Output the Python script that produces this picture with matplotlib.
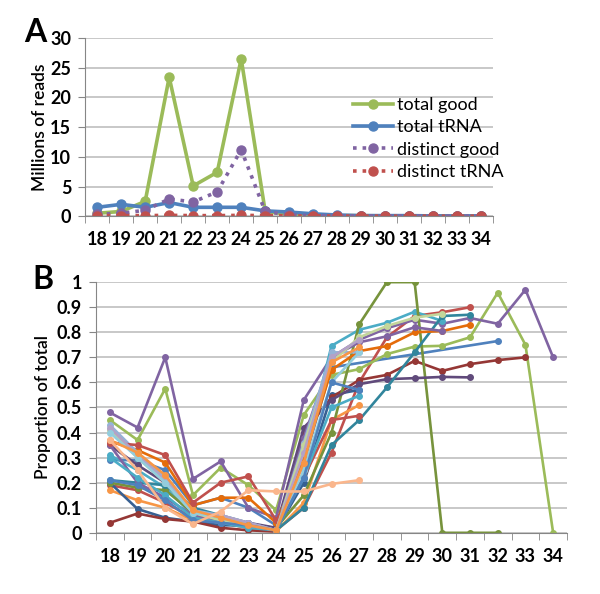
import numpy as np
import matplotlib.pyplot as plt
from matplotlib.ticker import FixedLocator

plt.rcParams['font.family'] = ['Lato', 'DejaVu Sans']

lengths = list(range(18, 35))

# panel A, millions of reads
total_good = [0.5, 0.8, 2.5, 23.4, 5.1, 7.4, 26.5, 0.8, 0.3, 0.2, 0.1, 0.1, 0.05, 0.05, 0.05, 0.02, 0.02]
total_trna = [1.5, 2.0, 1.5, 2.3, 1.5, 1.5, 1.5, 0.9, 0.7, 0.4, 0.2, 0.1, 0.1, 0.1, 0.05, 0.05, 0.05]
distinct_good = [0.3, 0.5, 1.0, 2.9, 2.4, 4.1, 11.2, 0.8, 0.2, 0.1, 0.05, 0.05, 0.03, 0.03, 0.02, 0.02, 0.02]
distinct_trna = [0.1, 0.1, 0.1, 0.15, 0.1, 0.1, 0.15, 0.1, 0.05, 0.05, 0.03, 0.02, 0.02, 0.02, 0.01, 0.01, 0.01]

# panel B, proportion of total (None = no value for that length)
N = None
props = [
    # colour, values 18..34
    ('#4F81BD', [0.29, 0.29, 0.25, 0.11, 0.14, 0.10, 0.03, 0.28, 0.66, N, N, N, N, N, 0.765]),
    ('#C0504D', [0.19, 0.17, 0.12, 0.06, 0.04, 0.02, 0.01, 0.10, 0.32, 0.60, 0.78, 0.865, 0.88, 0.90]),
    ('#9BBB59', [0.45, 0.37, 0.575, 0.15, 0.26, 0.19, 0.09, 0.47, 0.63, 0.653, 0.713, 0.743, 0.746, 0.78, 0.958, 0.75, 0.0]),
    ('#8064A2', [0.48, 0.42, 0.70, 0.215, 0.285, 0.10, 0.06, 0.53, 0.70, 0.77, 0.816, 0.85, 0.834, 0.857, 0.834, 0.97, 0.70]),
    ('#4BACC6', [0.31, 0.25, 0.18, 0.07, 0.05, 0.03, 0.01, 0.30, 0.746, 0.81, 0.838, 0.882, 0.845]),
    ('#F79646', [0.17, 0.13, 0.10, 0.05, 0.04, 0.02, 0.005, 0.12, 0.45, 0.51]),
    ('#376092', [0.20, 0.095, 0.06, 0.045, 0.03, 0.03, 0.01, 0.20, 0.55, 0.57]),
    ('#953735', [0.04, 0.077, 0.055, 0.045, 0.02, 0.01, 0.005, 0.40, 0.54, 0.61, 0.63, 0.686, 0.646, 0.673, 0.689, 0.70]),
    ('#77933C', [0.20, 0.18, 0.17, 0.08, 0.06, 0.03, 0.02, 0.15, 0.40, 0.832, 1.0, 1.0, 0.0, 0.0, 0.0]),
    ('#604A7B', [0.35, 0.27, 0.20, 0.10, 0.06, 0.04, 0.02, 0.42, 0.53, 0.593, 0.613, 0.617, 0.622, 0.62]),
    ('#31859C', [0.21, 0.20, 0.19, 0.10, 0.07, 0.04, 0.01, 0.10, 0.35, 0.45, 0.58, 0.72, 0.865, 0.87]),
    ('#E46C0A', [0.365, 0.33, 0.28, 0.11, 0.14, 0.14, 0.04, 0.30, 0.65, 0.725, 0.745, 0.80, 0.805, 0.83]),
    ('#8064A2', [0.35, 0.20, 0.14, 0.07, 0.05, 0.03, 0.01, 0.38, 0.70, 0.76, 0.784, 0.82, 0.805]),
    ('#95B3D7', [0.43, 0.32, 0.22, 0.09, 0.07, 0.04, 0.01, 0.36, 0.72, 0.72]),
    ('#C0504D', [0.36, 0.35, 0.31, 0.12, 0.20, 0.225, 0.05, 0.22, 0.45, 0.467]),
    ('#C3D69B', [0.41, 0.30, 0.20, 0.08, 0.05, 0.03, 0.01, 0.35, 0.68, 0.78, 0.825, 0.858, 0.874]),
    ('#4BACC6', [0.30, 0.22, 0.15, 0.06, 0.04, 0.02, 0.01, 0.22, 0.50, 0.547]),
    ('#B3A2C7', [0.42, 0.31, 0.21, 0.08, 0.07, 0.04, 0.01, 0.32, 0.70, 0.77]),
    ('#93CDDD', [0.40, 0.30, 0.20, 0.08, 0.06, 0.03, 0.01, 0.25, 0.60, 0.72]),
    ('#4F81BD', [0.21, 0.19, 0.13, 0.05, 0.04, 0.03, 0.01, 0.22, 0.60, 0.57]),
    ('#F79646', [0.37, 0.32, 0.23, 0.09, 0.06, 0.03, 0.01, 0.28, 0.68, 0.74]),
    ('#FAB68C', [0.37, 0.25, 0.10, 0.035, 0.085, 0.17, 0.165, 0.165, 0.195, 0.21]),
]

fig = plt.figure(figsize=(6.0, 5.94), dpi=100)

grid_c = '#BFBFBF'
tick_font = dict(fontsize=13, fontweight='bold')


def style_axes(ax):
    ax.set_xlim(17.5, 34.5)
    ax.set_xticks(lengths)
    ax.set_xticklabels([str(v) for v in lengths], **tick_font)
    ax.xaxis.set_minor_locator(FixedLocator(np.arange(17.5, 35, 1)))
    ax.tick_params(axis='x', which='major', length=0, pad=11)
    ax.tick_params(axis='x', which='minor', length=5, color='#868686')
    ax.tick_params(axis='y', length=5, color='#868686', pad=5)
    for s in ['top', 'right']:
        ax.spines[s].set_visible(False)
    for s in ['left', 'bottom']:
        ax.spines[s].set_color('#868686')
    ax.yaxis.grid(True, color=grid_c, linewidth=1.2)
    ax.set_axisbelow(True)
    for lab in ax.get_yticklabels():
        lab.set_fontweight('bold')
        lab.set_fontsize(13)


# ---- panel A
axA = fig.add_axes([0.142, 0.636, 0.68, 0.30])
axA.plot(lengths, total_good, color='#9BBB59', lw=2.6, marker='o', ms=6.5, label='total good')
axA.plot(lengths, total_trna, color='#4F81BD', lw=2.6, marker='o', ms=6.5, label='total tRNA')
axA.plot(lengths, distinct_good, color='#8064A2', lw=2.6, ls=':', marker='o', ms=6.5, label='distinct good')
axA.plot(lengths, distinct_trna, color='#C0504D', lw=2.6, ls=':', marker='o', ms=6.5, label='distinct tRNA')
axA.set_ylim(0, 30)
axA.set_yticks(range(0, 31, 5))
style_axes(axA)
axA.set_ylabel('Millions of reads', fontsize=12.5, fontweight='semibold', labelpad=2)
axA.legend(loc='upper left', bbox_to_anchor=(0.568, 0.858), bbox_transform=fig.transFigure,
           frameon=False, fontsize=13, handlelength=2.2, handletextpad=0.2,
           labelspacing=0.35, borderpad=0.2)
fig.text(0.058, 0.945, 'A', fontsize=23, fontweight='bold', ha='center', va='center')

# ---- panel B
axB = fig.add_axes([0.16, 0.103, 0.785, 0.422])
for col, vals in props:
    xs = [lengths[i] for i, v in enumerate(vals) if v is not None]
    ys = [v for v in vals if v is not None]
    axB.plot(xs, ys, color=col, lw=1.9, marker='o', ms=4)
axB.set_ylim(0, 1)
axB.set_yticks(np.arange(0, 1.01, 0.1))
axB.set_yticklabels(['0', '0.1', '0.2', '0.3', '0.4', '0.5', '0.6', '0.7', '0.8', '0.9', '1'])
style_axes(axB)
axB.set_ylabel('Proportion of total', fontsize=12.5, fontweight='semibold')
fig.text(0.072, 0.53, 'B', fontsize=23, fontweight='bold', ha='center', va='center')

fig.savefig('out.png', dpi=100)
